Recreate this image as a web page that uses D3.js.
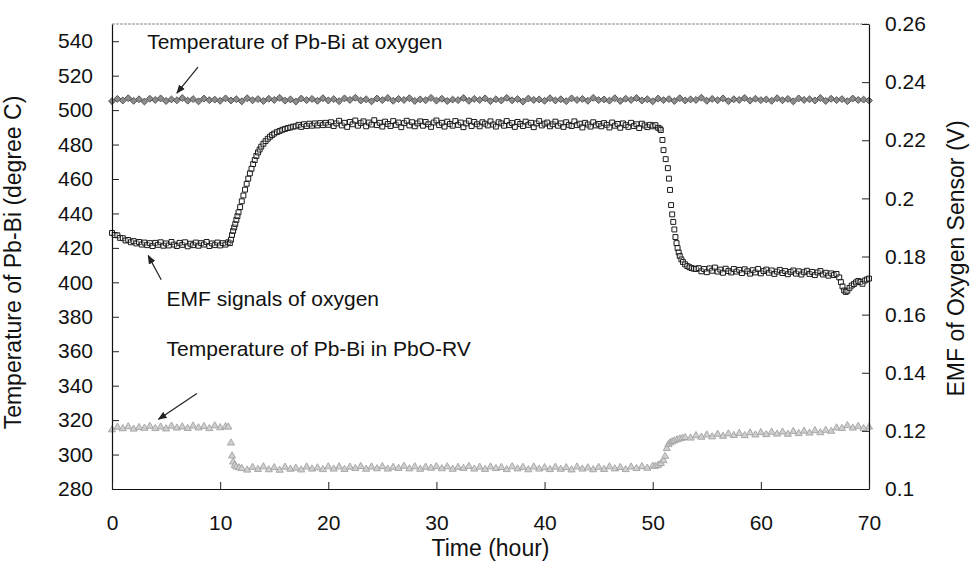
<!DOCTYPE html>
<html>
<head>
<meta charset="utf-8">
<script src="https://cdn.jsdelivr.net/npm/d3@7"></script>
<style>
  html, body { margin: 0; padding: 0; background: #fff; }
  svg { display: block; font-family: "Liberation Sans", Arial, sans-serif; }
  .tick text { font-size: 21px; fill: #111; }
  .ann { font-size: 21px; fill: #111; }
  .ttl { font-size: 23px; fill: #111; }
</style>
</head>
<body>
<svg id="chart" width="970" height="565"></svg>
<script>
/* Pb-Bi loop run: two thermocouples (left axis) and the oxygen sensor EMF (right axis) over 70 h. */

// temperature of Pb-Bi at the oxygen sensor, one reading every 0.5 h from t = 0
var topStep = 0.5;
var topTemp = [
  505.2, 506.5, 505.6, 506.9, 505.4, 506.3, 505.0, 506.6, 505.9, 506.8, 505.3, 506.2, 505.7, 507.0, 505.5, 506.4, 505.1, 506.7, 505.8, 506.1, 505.4,
  506.8, 505.6, 506.3, 505.1, 506.9, 505.7, 506.4, 505.3, 506.6, 505.9, 507.1, 505.5, 506.2, 505.0, 506.7, 505.8, 506.5, 505.4, 506.9, 505.6,
  506.4, 505.2, 506.8, 505.9, 507.2, 505.6, 506.3, 505.1, 506.7, 505.8, 507.0, 505.4, 506.5, 505.9, 506.9, 505.3, 506.2, 505.7, 507.1, 505.5,
  506.6, 505.3, 506.1, 505.8, 507.0, 505.4, 506.5, 505.9, 506.8, 505.2, 506.3, 505.6, 507.1, 505.7, 506.4, 505.0, 506.7, 505.9, 506.2, 505.4,
  506.9, 505.6, 506.3, 505.2, 506.8, 505.9, 506.5, 505.4, 507.1, 505.8, 506.2, 505.5, 506.9, 505.3, 506.6, 505.9, 507.0, 505.6, 506.3, 505.1,
  506.7, 505.8, 506.4, 505.3, 506.9, 505.6, 506.2, 505.9, 507.2, 505.4, 506.5, 505.7, 506.8, 505.2, 506.3, 505.9, 507.0, 505.5, 506.6, 505.8,
  506.2, 505.4, 506.9, 505.7, 506.5, 505.1, 506.8, 505.9, 506.3, 505.6, 507.0, 505.3, 506.6, 505.8, 506.4, 505.2, 506.7, 505.9, 506.1, 505.6
];

// EMF of the oxygen sensor (V): sample times (h) and readings
var emfTime = [
  0, 0.25, 0.5, 0.75, 1, 1.25, 1.5, 1.75, 2, 2.25, 2.5, 2.75, 3, 3.25, 3.5, 3.75, 4, 4.25, 4.5, 4.75,
  5, 5.25, 5.5, 5.75, 6, 6.25, 6.5, 6.75, 7, 7.25, 7.5, 7.75, 8, 8.25, 8.5, 8.75, 9, 9.25, 9.5, 9.75,
  10, 10.25, 10.5, 10.75,
  10.9, 11, 11.1, 11.2, 11.3, 11.4, 11.5, 11.6, 11.7, 11.85, 12, 12.15, 12.3, 12.45, 12.6, 12.75, 12.9, 13.05,
  13.2, 13.35, 13.5, 13.65, 13.8, 14, 14.2, 14.4, 14.6, 14.8, 15, 15.25, 15.5, 15.75, 16, 16.25, 16.5, 16.75,
  17, 17.25, 17.5, 17.75, 18, 18.25, 18.5, 18.75, 19, 19.25, 19.5, 19.75, 20,
  20.25, 20.5, 20.75, 21, 21.25, 21.5, 21.75, 22, 22.25, 22.5, 22.75, 23, 23.25, 23.5, 23.75, 24, 24.25, 24.5, 24.75, 25,
  25.25, 25.5, 25.75, 26, 26.25, 26.5, 26.75, 27, 27.25, 27.5, 27.75, 28, 28.25, 28.5, 28.75, 29, 29.25, 29.5, 29.75, 30,
  30.25, 30.5, 30.75, 31, 31.25, 31.5, 31.75, 32, 32.25, 32.5, 32.75, 33, 33.25, 33.5, 33.75, 34, 34.25, 34.5, 34.75, 35,
  35.25, 35.5, 35.75, 36, 36.25, 36.5, 36.75, 37, 37.25, 37.5, 37.75, 38, 38.25, 38.5, 38.75, 39, 39.25, 39.5, 39.75, 40,
  40.25, 40.5, 40.75, 41, 41.25, 41.5, 41.75, 42, 42.25, 42.5, 42.75, 43, 43.25, 43.5, 43.75, 44, 44.25, 44.5, 44.75, 45,
  45.25, 45.5, 45.75, 46, 46.25, 46.5, 46.75, 47, 47.25, 47.5, 47.75, 48, 48.25, 48.5, 48.75, 49, 49.25, 49.5, 49.75, 50,
  50.25, 50.5,
  50.65, 50.75, 50.9, 51, 51.2, 51.4, 51.5, 51.6, 51.7, 51.8, 51.9, 52, 52.1, 52.2, 52.3, 52.4, 52.5, 52.65, 52.8,
  53, 53.2, 53.4, 53.6, 53.8, 54,
  54.25, 54.5, 54.75, 55, 55.25, 55.5, 55.75, 56, 56.25, 56.5, 56.75, 57, 57.25, 57.5, 57.75, 58, 58.25, 58.5, 58.75, 59,
  59.25, 59.5, 59.75, 60, 60.25, 60.5, 60.75, 61, 61.25, 61.5, 61.75, 62, 62.25, 62.5, 62.75, 63, 63.25, 63.5, 63.75, 64,
  64.25, 64.5, 64.75, 65, 65.25, 65.5, 65.75, 66, 66.25, 66.5, 66.75, 67, 67.25,
  67.4, 67.55, 67.7, 67.85, 68, 68.2, 68.4, 68.6, 68.8, 69, 69.2, 69.4, 69.6, 69.8, 70
];
var emfValue = [
  .1881, .1874, .1873, .1864, .1863, .1855, .1857, .1849, .1853, .1845, .1850, .1841, .1848, .1839, .1846, .1836, .1847, .1840, .1849, .1837,
  .1845, .1838, .1850, .1841, .1836, .1847, .1840, .1849, .1835, .1844, .1839, .1848, .1837, .1846, .1841, .1850, .1836, .1845, .1839, .1848,
  .1838, .1846, .1841, .1849,
  .1846, .1858, .1874, .1888, .1900, .1912, .1926, .1939, .1952, .1970, .1990, .2010, .2030, .2050, .2068, .2086, .2102, .2118,
  .2132, .2146, .2158, .2168, .2178, .2188, .2197, .2205, .2212, .2218, .2223, .2228, .2232, .2236, .2239, .2242, .2244, .2247,
  .2248, .2253, .2246, .2255, .2249, .2257, .2250, .2258, .2251, .2259, .2252, .2260, .2253,
  .2262, .2249, .2258, .2267, .2251, .2260, .2246, .2263, .2255, .2268, .2250, .2259, .2265, .2248, .2261, .2254, .2269, .2252, .2260, .2247,
  .2264, .2256, .2249, .2266, .2253, .2261, .2245, .2259, .2267, .2251, .2262, .2248, .2258, .2265, .2250, .2263, .2255, .2246, .2261, .2268,
  .2252, .2260, .2247, .2264, .2256, .2250, .2266, .2253, .2261, .2245, .2258, .2267, .2249, .2263, .2255, .2248, .2262, .2257, .2251, .2265,
  .2254, .2247, .2262, .2258, .2250, .2266, .2252, .2259, .2246, .2263, .2256, .2249, .2264, .2253, .2260, .2245, .2258, .2266, .2251, .2257,
  .2261, .2248, .2255, .2264, .2250, .2258, .2246, .2262, .2253, .2249, .2265, .2252, .2257, .2244, .2260, .2254, .2247, .2262, .2251, .2256,
  .2248, .2259, .2253, .2244, .2261, .2250, .2256, .2243, .2258, .2252, .2246, .2260, .2249, .2255, .2242, .2257, .2251, .2245, .2253, .2248,
  .2252, .2243,
  .2240, .2235, .2201, .2166, .2135, .2104, .2068, .2029, .1977, .1945, .1919, .1893, .1867, .1846, .1829, .1814, .1802, .1790, .1781,
  .1773, .1767, .1763, .1760, .1758, .1757,
  .1760, .1749, .1757, .1746, .1759, .1751, .1762, .1748, .1755, .1744, .1758, .1750, .1745, .1757, .1748, .1754, .1743, .1756, .1749, .1741,
  .1753, .1745, .1757, .1742, .1750, .1755, .1744, .1752, .1740, .1748, .1754, .1743, .1750, .1739, .1747, .1752, .1741, .1749, .1738, .1746,
  .1751, .1740, .1747, .1736, .1745, .1750, .1738, .1744, .1734, .1742, .1736, .1740, .1728,
  .1712, .1697, .1683, .1678, .1682, .1692, .1700, .1705, .1711, .1716, .1712, .1706, .1717, .1721, .1724
];

// temperature of Pb-Bi in the PbO reaction vessel: sample times (h) and readings
var rvTime = [
  0, 0.5, 1, 1.5, 2, 2.5, 3, 3.5, 4, 4.5, 5, 5.5, 6, 6.5, 7, 7.5, 8, 8.5, 9, 9.5, 10, 10.5,
  10.75, 11, 11.1, 11.2, 11.35, 11.5, 11.75, 12,
  12.5, 13, 13.5, 14, 14.5, 15, 15.5, 16, 16.5, 17, 17.5, 18, 18.5, 19, 19.5, 20,
  20.5, 21, 21.5, 22, 22.5, 23, 23.5, 24, 24.5, 25, 25.5, 26, 26.5, 27, 27.5, 28, 28.5, 29, 29.5, 30,
  30.5, 31, 31.5, 32, 32.5, 33, 33.5, 34, 34.5, 35, 35.5, 36, 36.5, 37, 37.5, 38, 38.5, 39, 39.5, 40,
  40.5, 41, 41.5, 42, 42.5, 43, 43.5, 44, 44.5, 45, 45.5, 46, 46.5, 47, 47.5, 48, 48.5, 49, 49.5, 50,
  50.25, 50.5, 50.75, 51, 51.15, 51.3, 51.45, 51.6, 51.8, 52, 52.25, 52.5, 52.75, 53,
  53.5, 54, 54.5, 55, 55.5, 56, 56.5, 57, 57.5, 58, 58.5, 59, 59.5, 60, 60.5, 61, 61.5, 62, 62.5, 63,
  63.5, 64, 64.5, 65, 65.5, 66, 66.5, 67, 67.5, 68, 68.5, 69, 69.5, 70
];
var rvTemp = [
  314.4, 315.9, 315.0, 316.2, 314.8, 315.7, 315.3, 316.4, 315.1, 316.0, 314.9, 316.5, 315.4, 316.1, 315.2, 316.6, 315.5, 316.3, 315.1, 316.7, 315.6, 316.2,
  316.0, 306.7, 299.2, 295.7, 293.8, 292.8, 292.3, 291.9,
  291.0, 292.6, 291.4, 292.9, 291.2, 292.4, 290.9, 292.7, 291.5, 292.1, 291.1, 292.8, 291.6, 292.3, 291.3, 292.9,
  291.6, 292.9, 291.4, 292.7, 291.9, 293.1, 291.5, 292.8, 291.8, 293.0, 291.6, 292.6, 292.0, 293.2, 291.7, 292.9, 291.5, 292.7, 292.1, 293.0,
  291.8, 292.9, 291.5, 292.6, 292.0, 293.1, 291.6, 292.7, 291.4, 292.8, 291.9, 292.5, 291.3, 292.9, 291.7, 292.6, 291.2, 292.8, 291.6, 292.4,
  291.3, 292.7, 291.5, 292.4, 291.1, 292.8, 291.6, 292.3, 291.2, 292.6, 291.4, 292.9, 291.7, 292.5, 291.3, 292.8, 291.9, 293.0, 292.1, 293.3,
  293.2, 293.8, 294.8, 296.5, 299.0, 303.5, 305.8, 306.8, 307.4, 308.0, 308.6, 309.1, 309.5, 309.9,
  309.6, 311.0, 310.1, 311.4, 310.3, 311.8, 310.6, 312.0, 311.1, 312.3, 311.0, 312.6, 311.4, 312.8, 311.6, 313.0, 311.9, 313.1, 311.8, 313.4,
  312.2, 313.6, 312.5, 313.9, 312.7, 314.1, 313.5, 315.5, 315.2, 316.8, 315.4, 316.4, 315.1, 316.0
];

var tempTicks = [280, 300, 320, 340, 360, 380, 400, 420, 440, 460, 480, 500, 520, 540];
var emfTicks = [0.1, 0.12, 0.14, 0.16, 0.18, 0.2, 0.22, 0.24, 0.26];
var timeTicks = [0, 10, 20, 30, 40, 50, 60, 70];

// callouts, in data units (time, left-axis temperature)
var notes = [
  { text: "Temperature of Pb-Bi at oxygen", t: 3.25, v: 535.5, from: [7.95, 525.0], to: [6.0, 509.9] },
  { text: "EMF signals of oxygen", t: 5.05, v: 386.5, from: [4.55, 401.5], to: [3.35, 415.5] },
  { text: "Temperature of Pb-Bi in PbO-RV", t: 5.05, v: 357.0, from: [7.85, 335.5], to: [4.3, 320.5] }
];

(function () {
  "use strict";
  var L = 112, R = 869, T = 24, B = 489;
  var svg = d3.select("#chart");

  var x = d3.scaleLinear().domain([0, 70]).range([L, R]);
  var yT = d3.scaleLinear().domain([280, 550]).range([B, T]);
  var yE = d3.scaleLinear().domain([0.1, 0.26]).range([B, T]);

  svg.append("defs").append("marker")
    .attr("id", "head").attr("viewBox", "0 0 10 10").attr("refX", 9).attr("refY", 5)
    .attr("markerWidth", 9).attr("markerHeight", 9).attr("markerUnits", "userSpaceOnUse").attr("orient", "auto")
    .append("path").attr("d", "M0,1 L10,5 L0,9 Z").attr("fill", "#222");

  // plot frame: faint top edge, black axes
  svg.append("line").attr("x1", L).attr("x2", R).attr("y1", T).attr("y2", T)
    .attr("stroke", "#8a8a8a").attr("stroke-width", 1).attr("stroke-dasharray", "3,1");

  // PbO-RV temperature: light grey triangles
  svg.append("g").selectAll("path").data(d3.zip(rvTime, rvTemp)).enter().append("path")
    .attr("d", d3.symbol().type(d3.symbolTriangle).size(22))
    .attr("transform", function (d) { return "translate(" + x(d[0]) + "," + yT(d[1]) + ")"; })
    .attr("fill", "#cfcfcf").attr("stroke", "#a2a2a2").attr("stroke-width", 0.9);

  // oxygen-sensor temperature: grey diamonds
  svg.append("g").selectAll("path").data(topTemp).enter().append("path")
    .attr("d", d3.symbol().type(d3.symbolSquare).size(24))
    .attr("transform", function (d, i) { return "translate(" + x(i * topStep) + "," + yT(d) + ") rotate(45)"; })
    .attr("fill", "#8c8c8c").attr("stroke", "#505050").attr("stroke-width", 0.9);

  // EMF: open squares (fill kept faint so overlapping outlines build the dark band)
  svg.append("g").selectAll("path").data(d3.zip(emfTime, emfValue)).enter().append("path")
    .attr("d", d3.symbol().type(d3.symbolSquare).size(24))
    .attr("transform", function (d) { return "translate(" + x(d[0]) + "," + yE(d[1]) + ")"; })
    .attr("fill", "#fff").attr("fill-opacity", 0.35).attr("stroke", "#1a1a1a").attr("stroke-width", 1);

  function style(g) {
    g.select(".domain").attr("stroke", "#111").attr("stroke-width", 1.2);
    g.selectAll(".tick line").attr("stroke", "#222");
    g.selectAll(".tick text").attr("font-family", null).attr("font-size", null);
  }
  svg.append("g").attr("transform", "translate(" + L + ",0)")
    .call(d3.axisLeft(yT).tickValues(tempTicks).tickSize(-7).tickSizeOuter(0).tickPadding(19))
    .call(style);
  svg.append("g").attr("transform", "translate(" + R + ",0)")
    .call(d3.axisRight(yE).tickValues(emfTicks).tickSize(-7).tickSizeOuter(0).tickPadding(16)
      .tickFormat(function (d) { return String(+d.toFixed(2)); }))
    .call(style);
  svg.append("g").attr("transform", "translate(0," + B + ")")
    .call(d3.axisBottom(x).tickValues(timeTicks).tickSize(-7).tickSizeOuter(0).tickPadding(26))
    .call(style);

  // callouts
  notes.forEach(function (n) {
    svg.append("text").attr("class", "ann").attr("x", x(n.t)).attr("y", yT(n.v)).text(n.text);
    svg.append("line")
      .attr("x1", x(n.from[0])).attr("y1", yT(n.from[1])).attr("x2", x(n.to[0])).attr("y2", yT(n.to[1]))
      .attr("stroke", "#222").attr("stroke-width", 1.2).attr("marker-end", "url(#head)");
  });

  // axis titles
  svg.append("text").attr("class", "ttl").attr("text-anchor", "middle")
    .attr("transform", "translate(21," + ((T + B) / 2 + 6) + ") rotate(-90)")
    .text("Temperature of Pb-Bi (degree C)");
  svg.append("text").attr("class", "ttl").attr("text-anchor", "middle")
    .attr("transform", "translate(964," + ((T + B) / 2 + 2) + ") rotate(-90)")
    .text("EMF of Oxygen Sensor (V)");
  svg.append("text").attr("class", "ttl").attr("text-anchor", "middle")
    .attr("x", (L + R) / 2).attr("y", 556)
    .text("Time (hour)");
})();
</script>
</body>
</html>
